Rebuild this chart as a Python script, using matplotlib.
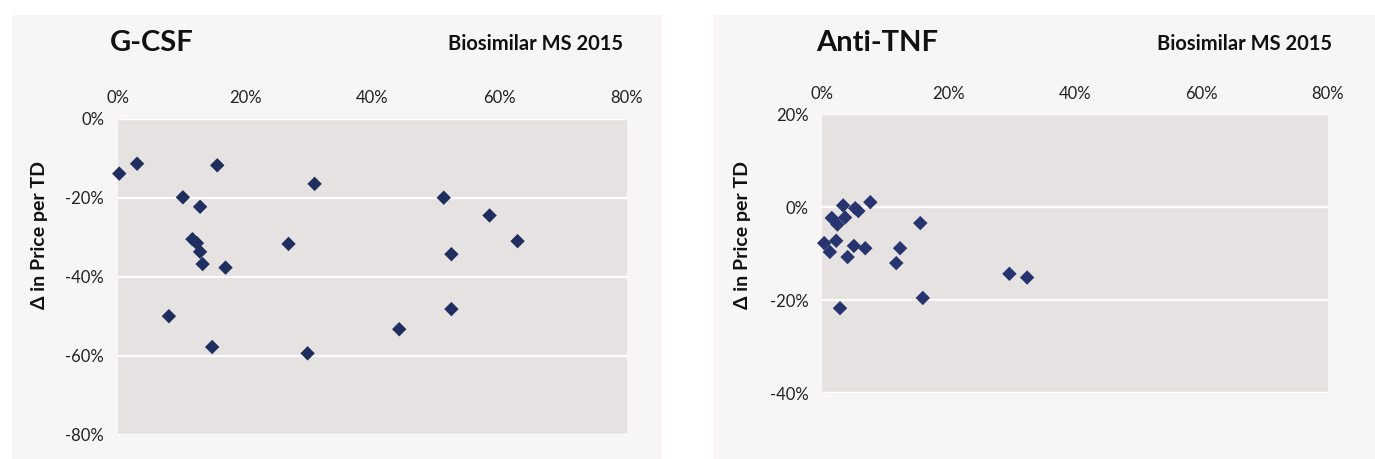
import matplotlib
matplotlib.use("Agg")
import matplotlib.pyplot as plt
from matplotlib.patches import Rectangle
from matplotlib.ticker import PercentFormatter, MultipleLocator

plt.rcParams['font.family'] = ['Lato', 'DejaVu Sans']
plt.rcParams['axes.unicode_minus'] = False

# ---------------- data ----------------
gcsf_ms = [0.002, 0.030, 0.156, 0.102, 0.129, 0.117, 0.124, 0.129, 0.133, 0.169,
           0.309, 0.512, 0.584, 0.628, 0.268, 0.524, 0.524, 0.442, 0.298, 0.080, 0.148]
gcsf_dprice = [-0.139, -0.114, -0.118, -0.199, -0.223, -0.305, -0.315, -0.337, -0.368, -0.377,
               -0.165, -0.200, -0.245, -0.310, -0.317, -0.343, -0.482, -0.533, -0.594, -0.500, -0.578]

tnf_ms = [0.076, 0.033, 0.052, 0.057, 0.015, 0.024, 0.036, 0.155, 0.003, 0.022,
          0.012, 0.050, 0.068, 0.040, 0.123, 0.117, 0.159, 0.028, 0.296, 0.324]
tnf_dprice = [0.011, 0.004, -0.002, -0.008, -0.023, -0.037, -0.022, -0.034, -0.077, -0.072,
              -0.096, -0.083, -0.088, -0.107, -0.088, -0.120, -0.195, -0.217, -0.143, -0.151]

titles = ["G-CSF", "Anti-TNF"]
subtitle = "Biosimilar MS 2015"
ylabel = "\u0394 in Price per TD"

W, H = 1375, 459
fig = plt.figure(figsize=(W / 100, H / 100), dpi=100)
fig.patch.set_facecolor("white")

panel_bg = "#f7f5f6"
plot_bg = "#e6e2e1"


def px_rect(x0, y0, x1, y1):
    return [x0 / W, 1 - y1 / H, (x1 - x0) / W, (y1 - y0) / H]


# panel backgrounds
for (x0, y0, x1, y1) in [(12, 15, 662, 459), (713, 15, 1375, 459)]:
    fig.patches.append(Rectangle((x0 / W, 1 - y1 / H), (x1 - x0) / W, (y1 - y0) / H,
                                 transform=fig.transFigure, facecolor=panel_bg,
                                 edgecolor="none", zorder=-10))

specs = [
    dict(rect=px_rect(118, 118.7, 627, 434.7), x=gcsf_ms, y=gcsf_dprice,
         ylim=(-0.8, 0.0), color="#1f2e5e", title_x=110, sub_x=623, ylab_x=40),
    dict(rect=px_rect(822.3, 114.3, 1328, 393.3), x=tnf_ms, y=tnf_dprice,
         ylim=(-0.4, 0.2), color="#27346f", title_x=816, sub_x=1332, ylab_x=742),
]

for i, sp in enumerate(specs):
    ax = fig.add_axes(sp["rect"])
    ax.set_zorder(1)
    ax.set_facecolor(plot_bg)
    ax.scatter(sp["x"], sp["y"], marker="D", s=54, color=sp["color"],
               edgecolors="none", zorder=3, clip_on=False)
    ax.set_xlim(0, 0.8)
    ax.set_ylim(*sp["ylim"])
    ax.xaxis.set_major_locator(MultipleLocator(0.2))
    ax.yaxis.set_major_locator(MultipleLocator(0.2))
    ax.xaxis.set_major_formatter(PercentFormatter(1.0, decimals=0))
    ax.yaxis.set_major_formatter(PercentFormatter(1.0, decimals=0))
    ax.xaxis.tick_top()
    ax.tick_params(axis="both", length=0, labelsize=12, colors="#222222")
    ax.tick_params(axis="x", pad=9)
    ax.tick_params(axis="y", pad=10)
    ax.grid(axis="y", color="white", linewidth=1.6, zorder=1)
    ax.set_axisbelow(True)
    for s in ax.spines.values():
        s.set_visible(False)

    fig.text(sp["title_x"] / W, 1 - 43 / H, titles[i], fontsize=21,
             fontweight="bold", ha="left", va="center", color="#111111")
    fig.text(sp["sub_x"] / W, 1 - 44 / H, subtitle, fontsize=14.5,
             fontweight="bold", ha="right", va="center", color="#111111")
    fig.text(sp["ylab_x"] / W, 1 - 235 / H, ylabel, fontsize=14,
             fontweight="bold", ha="center", va="center", rotation=90,
             color="#111111")

fig.savefig("out.png", dpi=100, facecolor=fig.get_facecolor())
